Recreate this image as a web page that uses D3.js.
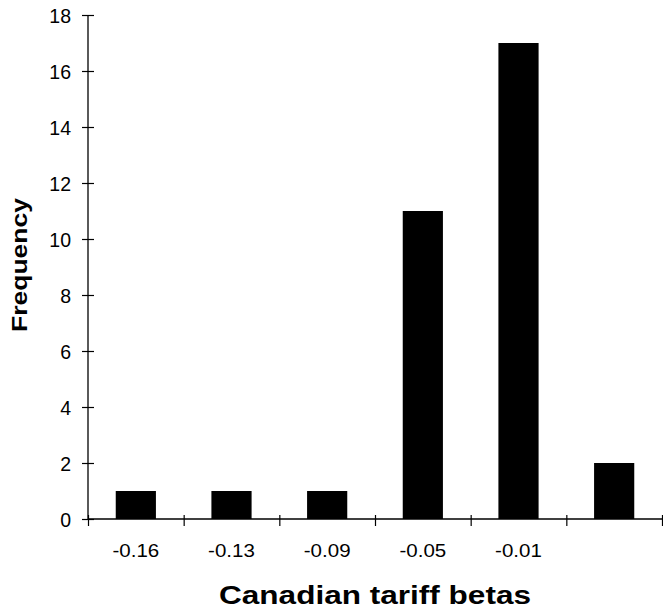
<!DOCTYPE html>
<html><head><meta charset="utf-8">
<script src="https://cdn.jsdelivr.net/npm/d3@7"></script>
<style>body{margin:0;background:#fff}svg{display:block}text{font-family:"Liberation Sans",Arial,sans-serif;fill:#000}</style>
</head><body>
<script>
const categories = ["-0.16","-0.13","-0.09","-0.05","-0.01",""];
const frequency = [1,1,1,11,17,2];
const yTicks = [0,2,4,6,8,10,12,14,16,18];

const W=663,H=615;
const svg=d3.select("body").append("svg").attr("width",W).attr("height",H);
const x=d3.scaleBand().domain(d3.range(categories.length)).range([88,662]).paddingInner(0.58).paddingOuter(0.29);
const xe=d3.scaleLinear().domain([0,categories.length]).range([88,662]);
const y=d3.scaleLinear().domain([0,18]).range([519,15]);

svg.selectAll("rect.bar").data(frequency).join("rect").attr("class","bar")
  .attr("x",(d,i)=>x(i)).attr("width",x.bandwidth())
  .attr("y",d=>y(d)).attr("height",d=>y(0)-y(d)).attr("fill","#000");

// y axis
const ya=svg.append("g").attr("transform","translate(88,0)")
  .call(d3.axisLeft(y).tickValues(yTicks).tickSize(6).tickPadding(11).tickFormat(d3.format("d")));
ya.select(".domain").attr("stroke","#000").attr("stroke-width",1.3).attr("d","M0,15V519");
ya.selectAll(".tick line").attr("x1",6).attr("x2",-6).attr("stroke-width",1.2);
ya.selectAll(".tick text").attr("font-size",19.5).attr("font-family","Liberation Sans, Arial, sans-serif").attr("dy","0.36em");

// x axis
const xa=svg.append("g").attr("transform","translate(0,519)")
  .call(d3.axisBottom(xe).tickValues(d3.range(categories.length+1)).tickSize(7).tickFormat(""));
xa.select(".domain").attr("stroke-width",1.3).attr("d","M88,0H662");
xa.selectAll(".tick line").attr("y1",-4).attr("y2",7).attr("stroke-width",1.2);

svg.append("g").selectAll("text").data(categories).join("text")
  .attr("transform",(d,i)=>`translate(${x(i)+x.bandwidth()/2},557) scale(1.08,1)`)
  .attr("text-anchor","middle").attr("font-size",19).text(d=>d);

svg.append("text").attr("x",375).attr("y",604).attr("text-anchor","middle")
  .attr("font-size",26).attr("font-weight","bold")
  .attr("textLength",312).attr("lengthAdjust","spacingAndGlyphs").text("Canadian tariff betas");
svg.append("text").attr("transform","translate(27,265) rotate(-90)").attr("text-anchor","middle")
  .attr("font-size",22).attr("font-weight","bold")
  .attr("textLength",134).attr("lengthAdjust","spacingAndGlyphs").text("Frequency");
</script>
</body></html>
